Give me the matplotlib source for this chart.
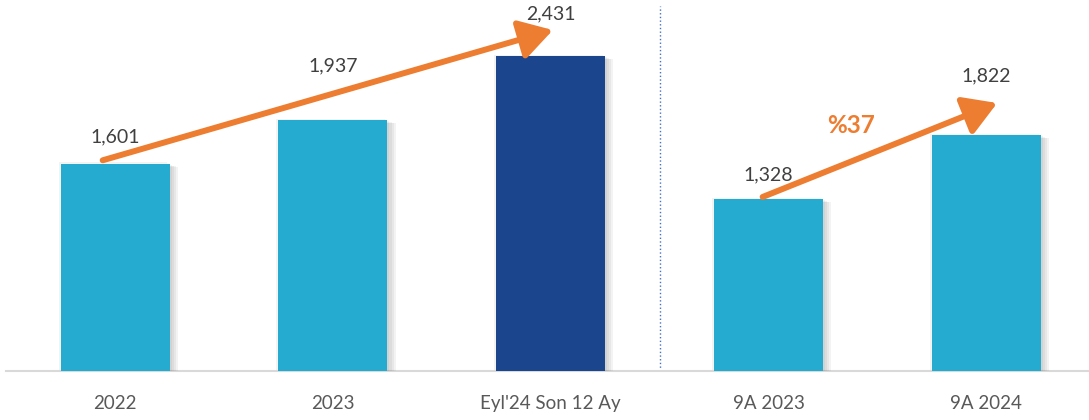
import numpy as np
import matplotlib
matplotlib.use("Agg")
import matplotlib.pyplot as plt
import matplotlib.patheffects as pe

plt.rcParams['font.family'] = ['Lato', 'DejaVu Sans']

# data
categories = ['2022', '2023', "Eyl'24 Son 12 Ay", '9A 2023', '9A 2024']
values = [1601, 1937, 2431, 1328, 1822]
growth_label = '%37'

light_blue = '#26ABD0'
dark_blue = '#1B458D'
orange = '#ED7D31'
colors = [light_blue, light_blue, dark_blue, light_blue, light_blue]

fig = plt.figure(figsize=(10.89, 4.20), dpi=100)
ax = fig.add_axes([0.0057, 0.1167, 1.0, 0.8833])

x = np.arange(len(categories))
bars = ax.bar(x, values, width=0.5, color=colors, zorder=3)

# soft shadow: a few faint offset copies
shadow = []
for dx, dy in [(-1.5, 1), (0, 0), (1.5, -1), (3, -1.5), (4.5, -2), (6, -2.5)]:
    shadow.append(pe.SimplePatchShadow(offset=(dx, dy), shadow_rgbFace='#555555', alpha=0.07))
shadow.append(pe.Normal())
for b in bars:
    b.set_path_effects(shadow)

# value labels (offset above bar in pixels)
label_off_px = [27, 54, 42, 24, 59]
for xi, v, off in zip(x, values, label_off_px):
    ax.annotate(f'{v:,}', xy=(xi, v), xytext=(0, off * 0.72), textcoords='offset points',
                ha='center', va='center', fontsize=14, color='#404040')

# trend arrows
arrow_style = dict(arrowstyle='-|>,head_length=1.0,head_width=0.6', lw=4.3, color=orange,
                   mutation_scale=20, shrinkA=0, shrinkB=0)
ax.annotate('', xy=(x[2] + 0.01, values[2] + 200), xytext=(x[0] - 0.057, values[0] + 25),
            arrowprops=arrow_style, zorder=5)
ax.annotate('', xy=(x[4] + 0.05, values[4] + 246), xytext=(x[3] - 0.027, values[3] + 15),
            arrowprops=arrow_style, zorder=5)
ax.text(3.38, 1898, growth_label, ha='center', va='center', fontsize=17.5,
        fontweight='bold', color=orange)

# separator
ax.axvline(2.5, ymin=0, ymax=0.985, color='#4472C4', linestyle=':', lw=1, zorder=1)

ax.set_xlim(-0.5, 4.5)
ax.set_ylim(0, 2863)
ax.set_xticks(x)
ax.set_xticklabels(categories, fontsize=13.5, color='#595959')
ax.tick_params(axis='x', length=0, pad=17)
ax.set_yticks([])
for s in ['top', 'right', 'left']:
    ax.spines[s].set_visible(False)
ax.spines['bottom'].set_color('#D9D9D9')
ax.spines['bottom'].set_linewidth(1.5)

fig.savefig('out.png', dpi=100)
